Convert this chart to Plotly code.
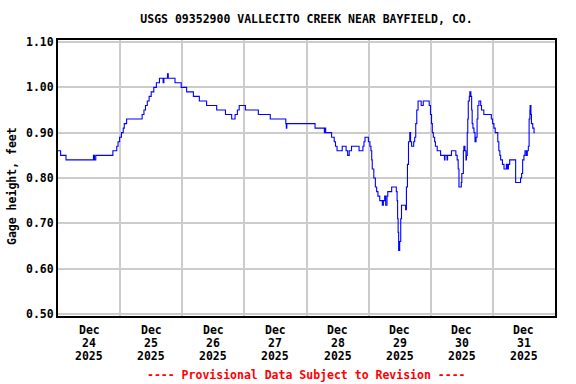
import pandas as pd
import plotly.graph_objects as go

# Hours after Dec 24 2025 00:00 and gage height (feet)
hours = [0, 1.0, 3.1, 13.7, 14.1, 14.6, 21.2, 22.7, 23.2, 23.8, 24.5, 25.2, 25.6, 26.5,
         32.5, 33.2, 33.8, 34.5, 35.2, 36.0, 37.0, 38.0, 39.2, 40.6, 40.9, 42.3, 42.6,
         45.2, 47.6, 49.7, 52.3, 54.6, 57.4, 61.3, 64.7, 67.1, 68.4, 69.3, 70.0, 72.4,
         77.4, 82.0, 88.0, 88.2, 88.4, 99.3, 102.9, 103.1, 103.4, 105.7, 106.7, 107.2,
         107.8, 109.8, 111.3, 111.9, 112.5, 113.4, 116.3, 117.8, 118.2, 118.6, 119.9,
         120.5, 120.9, 121.2, 121.4, 122.0, 122.6, 123.1, 123.6, 124.3, 125.3, 125.7,
         126.2, 126.6, 127.1, 127.4, 127.6, 128.9, 130.7, 131.0, 131.2, 131.4, 131.6,
         132.0, 132.4, 132.7, 134.3, 134.6, 135.0, 135.4, 135.9, 136.2, 136.6, 137.4,
         137.8, 138.2, 138.6, 139.1, 140.3, 141.1, 143.4, 143.9, 144.3, 144.6, 145.0,
         145.5, 145.8, 146.5, 147.8, 149.3, 149.5, 150.3, 150.5, 152.0, 153.7, 154.2,
         154.6, 154.9, 155.8, 156.0, 156.6, 156.8, 157.2, 157.6, 157.8, 158.1, 158.3,
         158.5, 158.9, 159.1, 159.5, 159.8, 160.0, 160.3, 160.7, 161.1, 161.5, 161.9,
         162.2, 162.6, 163.3, 163.6, 164.5, 167.4, 167.9, 168.4, 168.9, 169.9, 170.3,
         170.7, 171.0, 171.7, 172.3, 173.2, 173.6, 174.0, 174.5, 176.8, 178.7, 179.1,
         179.5, 180.0, 180.4, 180.9, 181.3, 181.7, 182.0, 182.3, 182.4, 182.7, 182.9,
         183.4, 183.9, 184.2]
gage_ft = [0.86, 0.85, 0.84, 0.85, 0.84, 0.85, 0.86, 0.87, 0.88, 0.89, 0.90, 0.91, 0.92, 0.93,
           0.94, 0.95, 0.96, 0.97, 0.98, 0.99, 1.00, 1.01, 1.02, 1.01, 1.02, 1.03, 1.02,
           1.01, 1.00, 0.99, 0.98, 0.97, 0.96, 0.95, 0.94, 0.93, 0.94, 0.95, 0.96, 0.95,
           0.94, 0.93, 0.92, 0.91, 0.92, 0.91, 0.90, 0.91, 0.90, 0.89, 0.88, 0.87,
           0.86, 0.87, 0.86, 0.85, 0.86, 0.87, 0.86, 0.87, 0.88, 0.89, 0.88,
           0.87, 0.86, 0.84, 0.82, 0.80, 0.78, 0.77, 0.76, 0.75, 0.74, 0.75,
           0.76, 0.74, 0.76, 0.77, 0.77, 0.78, 0.77, 0.75, 0.71, 0.68, 0.64,
           0.66, 0.71, 0.74, 0.73, 0.78, 0.83, 0.88, 0.90, 0.88, 0.87, 0.88,
           0.89, 0.92, 0.95, 0.97, 0.96, 0.97, 0.96, 0.94, 0.92, 0.90, 0.89,
           0.88, 0.87, 0.86, 0.85, 0.84, 0.85, 0.84, 0.85, 0.86, 0.85, 0.84,
           0.82, 0.78, 0.79, 0.81, 0.86, 0.87, 0.86, 0.84, 0.85, 0.90, 0.93,
           0.97, 0.98, 0.99, 0.98, 0.95, 0.92, 0.91, 0.90, 0.88, 0.89, 0.93,
           0.96, 0.97, 0.96, 0.95, 0.94, 0.93, 0.92, 0.91, 0.90, 0.88, 0.86,
           0.85, 0.84, 0.83, 0.82, 0.83, 0.82, 0.83, 0.84, 0.79, 0.80, 0.81,
           0.84, 0.85, 0.86, 0.85, 0.86, 0.87, 0.93, 0.95, 0.96, 0.94, 0.92,
           0.91, 0.90, 0.90]

month_label = "Dec"
day_numbers = ["24", "25", "26", "27", "28", "29", "30", "31"]
year_label = "2025"
y_ticks = [0.50, 0.60, 0.70, 0.80, 0.90, 1.00, 1.10]

base = pd.Timestamp("2025-12-24 00:00")
times = [base + pd.Timedelta(hours=h) for h in hours]
day_noons = [base + pd.Timedelta(hours=12 + 24 * i) for i in range(len(day_numbers))]

FONT = "DejaVu Sans Mono"
PLOT_H = 276  # plot-area height in px (for placing text rows below it)


def bold(color="black"):
    return dict(family=FONT, size=11.5, color=color, weight="bold")


fig = go.Figure()
fig.add_trace(go.Scatter(x=times, y=gage_ft, mode="lines", line_shape="hv",
                         line=dict(color="#0000ff", width=1.1), hoverinfo="x+y"))

annotations = [
    dict(text="Gage height, feet", xref="paper", yref="paper",
         x=(12 - 58) / 497, y=(316 - 186) / PLOT_H, textangle=-90,
         xanchor="center", yanchor="middle", showarrow=False, font=bold()),
    dict(text="---- Provisional Data Subject to Revision ----",
         xref="paper", yref="paper", x=0.5, y=(316 - 375) / PLOT_H,
         xanchor="center", yanchor="middle", showarrow=False, font=bold("red")),
]
# three-row date labels under each day
for t, d in zip(day_noons, day_numbers):
    for row_text, px_y in ((month_label, 330), (d, 343), (year_label, 356)):
        annotations.append(dict(text=row_text, xref="x", yref="paper", x=t,
                                y=(316 - px_y) / PLOT_H, xanchor="center",
                                yanchor="middle", showarrow=False, font=bold()))

fig.update_layout(
    width=576, height=384,
    margin=dict(l=58, r=21, t=40, b=68),
    paper_bgcolor="white", plot_bgcolor="white",
    showlegend=False,
    font=bold(),
    title=dict(text="USGS 09352900 VALLECITO CREEK NEAR BAYFIELD, CO.",
               xref="paper", x=0.5, xanchor="center",
               yref="container", y=1 - 19 / 384, yanchor="middle",
               font=bold()),
    xaxis=dict(range=[base, base + pd.Timedelta(days=8)],
               tickvals=day_noons, showticklabels=False, ticks="",
               showgrid=False, zeroline=False, automargin=False,
               showline=True, mirror=True, linecolor="black", linewidth=2,
               minor=dict(tick0=base, dtick=86400000, showgrid=True,
                          gridcolor="#cccccc", gridwidth=1.5, ticks="")),
    yaxis=dict(range=[0.4956, 1.1044], tickvals=y_ticks,
               ticktext=[f"{v:.2f}" for v in y_ticks], ticks="",
               showgrid=True, gridcolor="#cccccc", gridwidth=1.5, zeroline=False,
               automargin=False,
               showline=True, mirror=True, linecolor="black", linewidth=2,
               tickfont=bold()),
    annotations=annotations,
)

fig.write_html("out.html", config={"displayModeBar": False},
               post_script="document.body.style.margin='0';")
